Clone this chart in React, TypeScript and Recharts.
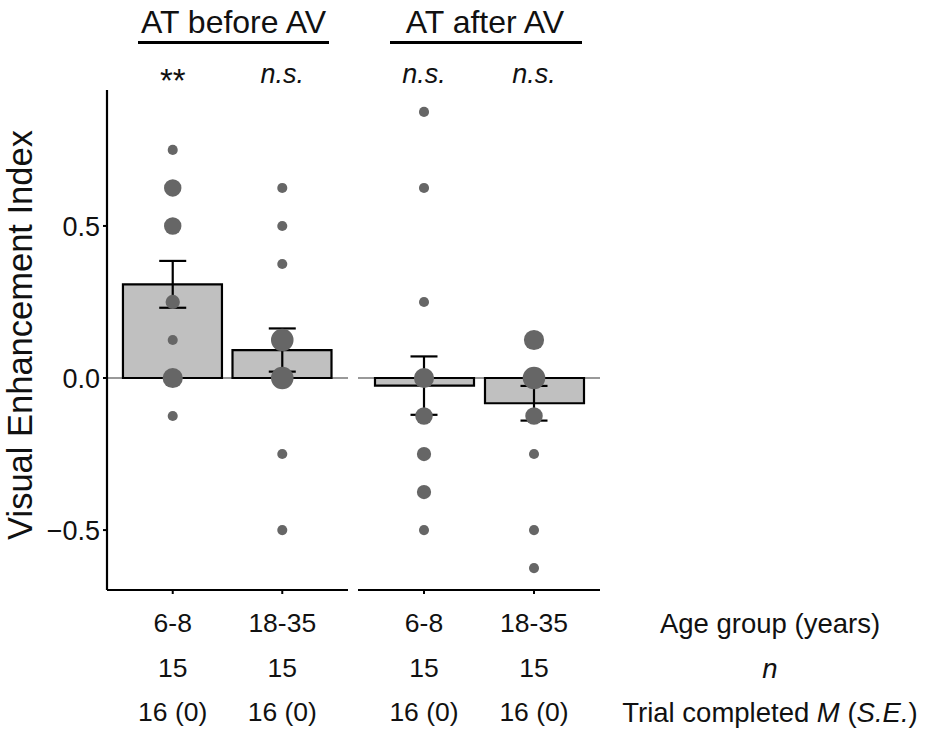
import { ComposedChart, Bar, Scatter, XAxis, YAxis, ZAxis, ErrorBar, CartesianGrid } from "recharts";

const groups = ["6-8", "18-35"];
const yTicks = [-0.5, 0, 0.5];

// AT before AV
const beforeMeans = [0.308, 0.092];
const beforeSE = [0.077, 0.071];
const beforeSig = ["**", "n.s."];
const beforeN = [15, 15];
const beforeTrials = ["16 (0)", "16 (0)"];
const before68Values = [0.75, 0.625, 0.5, 0.25, 0.125, 0, -0.125];
const before68Counts = [1, 3, 3, 2, 1, 4, 1];
const before1835Values = [0.625, 0.5, 0.375, 0.125, 0, -0.25, -0.5];
const before1835Counts = [1, 1, 1, 5, 5, 1, 1];

// AT after AV
const afterMeans = [-0.025, -0.083];
const afterSE = [0.096, 0.057];
const afterSig = ["n.s.", "n.s."];
const afterN = [15, 15];
const afterTrials = ["16 (0)", "16 (0)"];
const after68Values = [0.875, 0.625, 0.25, 0, -0.125, -0.25, -0.375, -0.5];
const after68Counts = [1, 1, 1, 4, 3, 2, 2, 1];
const after1835Values = [0.125, 0, -0.125, -0.25, -0.5, -0.625];
const after1835Counts = [4, 5, 3, 1, 1, 1];

const FONT = "'Liberation Sans', Arial, Helvetica, sans-serif";
const Y_DOMAIN = [-0.697, 0.947];

const barRows = (means: number[], ses: number[]) =>
  means.map((m, i) => ({ x: i + 1, mean: m, se: ses[i] }));

const dotRows = (values: number[], counts: number[], x: number) =>
  values.map((v, i) => ({ x, y: v, count: counts[i] }));

const fmtY = (v: number) => v.toFixed(1).replace("-", "\u2212");

function Panel(props: any) {
  const { width, left, marginLeft, marginRight, showY, means, ses, dots, sig, n, trials } = props;
  const rows = barRows(means, ses);

  const BottomTick = (p: any) => {
    const i = Math.round(p.payload.value) - 1;
    return (
      <g fontFamily={FONT} fontSize={26.5} fill="#111" textAnchor="middle">
        <text x={p.x} y={632}>{groups[i]}</text>
        <text x={p.x} y={677}>{n[i]}</text>
        <text x={p.x} y={721}>{trials[i]}</text>
      </g>
    );
  };

  const SigTick = (p: any) => {
    const i = Math.round(p.payload.value) - 1;
    const s = sig[i];
    return (
      <text
        x={p.x}
        y={s === "**" ? 92 : 83}
        textAnchor="middle"
        fontFamily={FONT}
        fontSize={s === "**" ? 33 : 27}
        fontStyle={s === "**" ? "normal" : "italic"}
        fill="#111"
      >
        {s}
      </text>
    );
  };

  return (
    <div style={{ position: "absolute", left, top: 0 }}>
      <ComposedChart
        width={width}
        height={729}
        data={rows}
        margin={{ top: 60, right: marginRight, bottom: 99, left: marginLeft }}
      >
        <CartesianGrid vertical={false} horizontalValues={[0]} stroke="#777" strokeWidth={1.6} />
        <XAxis
          dataKey="x"
          type="number"
          domain={[0.4, 2.6]}
          ticks={[1, 2]}
          height={40}
          allowDataOverflow
          axisLine={{ stroke: "#000", strokeWidth: 2.2 }}
          tickLine={{ stroke: "#000", strokeWidth: 2 }}
          tickSize={4}
          tick={BottomTick}
          interval={0}
        />
        <XAxis
          xAxisId="top"
          orientation="top"
          dataKey="x"
          type="number"
          domain={[0.4, 2.6]}
          ticks={[1, 2]}
          height={30}
          allowDataOverflow
          axisLine={false}
          tickLine={false}
          tick={SigTick}
          interval={0}
        />
        <YAxis
          type="number"
          domain={Y_DOMAIN}
          ticks={yTicks}
          allowDataOverflow
          hide={!showY}
          width={107}
          tickFormatter={fmtY}
          tickSize={4}
          tickMargin={3}
          axisLine={{ stroke: "#000", strokeWidth: 2.2 }}
          tickLine={{ stroke: "#000", strokeWidth: 2 }}
          tick={{ fontSize: 27, fill: "#111", fontFamily: FONT }}
        />
        <ZAxis dataKey="count" type="number" domain={[0, 5]} range={[0, 400]} />
        <Bar dataKey="mean" barSize={99} fill="#c0c0c0" stroke="#000" strokeWidth={2.2} isAnimationActive={false} />
        <Scatter data={dots} dataKey="y" fill="#666666" isAnimationActive={false} />
        <Scatter data={rows} dataKey="mean" shape={() => <g />} isAnimationActive={false}>
          <ErrorBar dataKey="se" direction="y" width={13.5} stroke="#000" strokeWidth={2.2} />
        </Scatter>
      </ComposedChart>
    </div>
  );
}

export default function App() {
  const beforeDots = [
    ...dotRows(before68Values, before68Counts, 1),
    ...dotRows(before1835Values, before1835Counts, 2),
  ];
  const afterDots = [
    ...dotRows(after68Values, after68Counts, 1),
    ...dotRows(after1835Values, after1835Counts, 2),
  ];

  return (
    <div style={{ position: "absolute", left: 0, top: 0, width: 925, height: 729, background: "#fff" }}>
      <Panel
        width={360}
        left={0}
        marginLeft={0}
        marginRight={12}
        showY
        means={beforeMeans}
        ses={beforeSE}
        dots={beforeDots}
        sig={beforeSig}
        n={beforeN}
        trials={beforeTrials}
      />
      <Panel
        width={260}
        left={350}
        marginLeft={8}
        marginRight={10}
        showY={false}
        means={afterMeans}
        ses={afterSE}
        dots={afterDots}
        sig={afterSig}
        n={afterN}
        trials={afterTrials}
      />
      <svg
        width={925}
        height={729}
        style={{ position: "absolute", left: 0, top: 0, pointerEvents: "none" }}
        fontFamily={FONT}
        fill="#111"
      >
        <text x={233.5} y={33} fontSize={32} textAnchor="middle">AT before AV</text>
        <line x1={138} x2={329} y1={42.5} y2={42.5} stroke="#000" strokeWidth={3} />
        <text x={485} y={33} fontSize={32} textAnchor="middle">AT after AV</text>
        <line x1={390} x2={582} y1={42.5} y2={42.5} stroke="#000" strokeWidth={3} />
        <text
          transform="translate(32, 335) rotate(-90)"
          fontSize={34.5}
          textAnchor="middle"
        >
          Visual Enhancement Index
        </text>
        <g fontSize={27.5} textAnchor="middle">
          <text x={770} y={633}>Age group (years)</text>
          <text x={770} y={678} fontStyle="italic">n</text>
          <text x={770} y={722}>
            Trial completed <tspan fontStyle="italic">M</tspan> (<tspan fontStyle="italic">S.E.</tspan>)
          </text>
        </g>
      </svg>
    </div>
  );
}
